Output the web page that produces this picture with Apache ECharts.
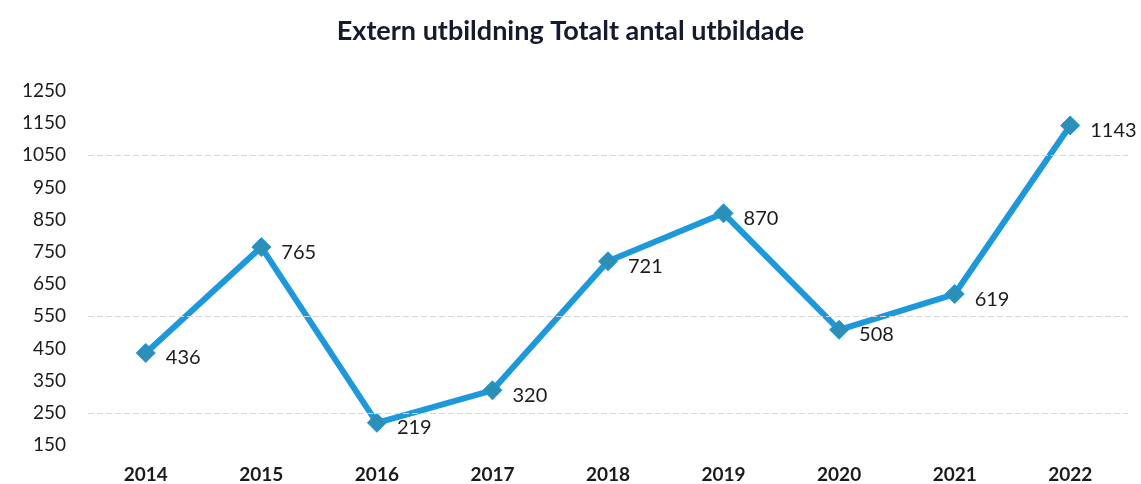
<!DOCTYPE html>
<html>
<head>
<meta charset="utf-8">
<script src="https://cdn.jsdelivr.net/npm/echarts@6/dist/echarts.min.js"></script>
<style>
  html, body { margin: 0; padding: 0; background: #fff; }
  #chart { width: 1141px; height: 484px; }
</style>
</head>
<body>
<div id="chart"></div>
<script>
// Extern utbildning – totalt antal utbildade per år
const YEARS = ['2014', '2015', '2016', '2017', '2018', '2019', '2020', '2021', '2022'];
const TOTALS = [436, 765, 219, 320, 721, 870, 508, 619, 1143];
// stödlinjer som syns i originalet
const GRID_VALUES = [1050, 550, 250];

const FONT = 'Lato, "Open Sans", sans-serif';
const chart = echarts.init(document.getElementById('chart'));

chart.setOption({
  backgroundColor: '#fff',
  animation: false,
  title: {
    text: 'Extern utbildning Totalt antal utbildade',
    left: 'center', top: 13,
    textStyle: { fontFamily: FONT, fontSize: 27, fontWeight: 'bold', color: '#161a2e' },
  },
  grid: { left: 88, right: 13, top: 91, bottom: 38 },
  xAxis: {
    type: 'category',
    data: YEARS,
    axisLine: { show: false },
    axisTick: { show: false },
    axisLabel: { fontFamily: FONT, fontSize: 19, fontWeight: 'bold', color: '#1b1b1b', margin: 20 },
  },
  yAxis: {
    type: 'value',
    min: 150, max: 1250, interval: 100,
    axisLine: { show: false },
    axisTick: { show: false },
    splitLine: { show: false },
    axisLabel: { fontFamily: FONT, fontSize: 19, color: '#1b1b1b', margin: 22, formatter: v => String(v) },
  },
  series: [{
    type: 'line',
    data: TOTALS,
    symbol: 'diamond',
    symbolSize: 19,
    lineStyle: { color: '#1d98db', width: 6 },
    itemStyle: { color: '#2b8fb8', borderColor: '#1d98db', borderWidth: 1 },
    label: {
      show: true, position: 'right', distance: 10, offset: [0, 5],
      fontFamily: FONT, fontSize: 20, color: '#1b1b1b',
    },
    markLine: {
      silent: true, symbol: 'none', label: { show: false },
      lineStyle: { color: '#d6d6d6', width: 1, type: [6, 3] },
      data: GRID_VALUES.map(v => ({ yAxis: v })),
    },
    z: 3,
  }],
});
</script>
</body>
</html>
